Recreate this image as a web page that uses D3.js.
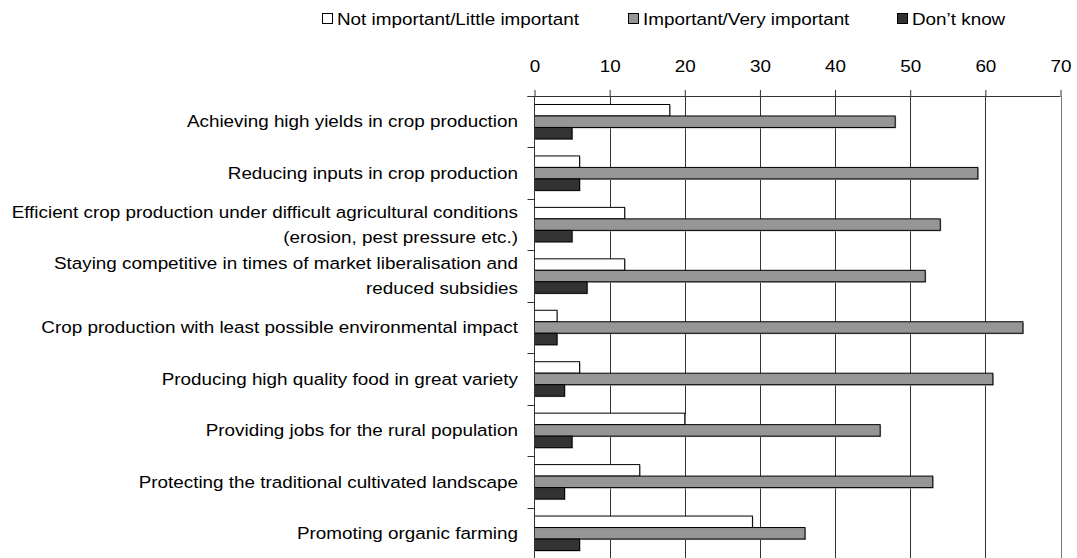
<!DOCTYPE html>
<html>
<head>
<meta charset="utf-8">
<script src="https://cdn.jsdelivr.net/npm/d3@7"></script>
<style>
  html, body { margin: 0; padding: 0; background: #fff; }
  svg { display: block; }
  text { font-family: "Liberation Sans", Arial, sans-serif; fill: #000; }
</style>
</head>
<body>
<svg id="chart" width="1077" height="558"></svg>
<script>
const categories = [
  "Achieving high yields in crop production",
  "Reducing inputs in crop production",
  "Efficient crop production under difficult agricultural conditions\n(erosion, pest pressure etc.)",
  "Staying competitive in times of market liberalisation and\nreduced subsidies",
  "Crop production with least possible environmental impact",
  "Producing high quality food in great variety",
  "Providing jobs for the rural population",
  "Protecting the traditional cultivated landscape",
  "Promoting organic farming"
];
const seriesNames = ["Not important/Little important", "Important/Very important", "Don\u2019t know"];
const notImportant = [18, 6, 12, 12, 3, 6, 20, 14, 29];
const important    = [48, 59, 54, 52, 65, 61, 46, 53, 36];
const dontKnow     = [5, 6, 5, 7, 3, 4, 5, 4, 6];
const xTicks = [0, 10, 20, 30, 40, 50, 60, 70];

const seriesValues = [notImportant, important, dontKnow];
const seriesFill = ["#ffffff", "#969696", "#333333"];

const FS = 17, SX = 1.11;
const svg = d3.select("#chart");

const x = d3.scaleLinear().domain([0, 70]).range([534.5, 1060.5]);
const y = d3.scaleBand().domain(d3.range(categories.length)).range([96, 559]).padding(0);
const ySub = d3.scaleBand().domain(d3.range(seriesNames.length))
  .range([y.bandwidth() * 0.165, y.bandwidth() * 0.835]).padding(0);

function stretchText(sel, tx, ty) {
  sel.attr("transform", (d, i) => `translate(${tx(d, i)},${ty(d, i)}) scale(${SX},1)`);
}

// gridlines
svg.append("g").selectAll("line").data(xTicks.filter(t => t > 0)).join("line")
  .attr("x1", d => Math.round(x(d)) + 0.5).attr("x2", d => Math.round(x(d)) + 0.5)
  .attr("y1", 96).attr("y2", 559)
  .attr("stroke", d => d === 70 ? "#777" : "#333").attr("stroke-width", 1);

// top axis
const gx = svg.append("g").attr("transform", "translate(0,96)")
  .call(d3.axisTop(x).tickValues(xTicks).tickSize(6).tickPadding(18).tickFormat(d3.format("d")));
gx.select(".domain").attr("stroke", "#333").attr("d", `M${x(0) - 7},0.5H${x(70)}`);
gx.selectAll(".tick line").attr("stroke", "#333");
gx.selectAll(".tick text").attr("font-size", FS).attr("font-family", "Liberation Sans, Arial, sans-serif")
  .attr("fill", "#000").attr("transform", `scale(${SX},1)`).attr("x", 0);

// bars
const rows = svg.append("g").selectAll("g").data(categories).join("g")
  .attr("transform", (d, i) => `translate(0,${y(i)})`);

seriesValues.forEach((vals, s) => {
  rows.append("rect")
    .attr("x", x(0) + 1)
    .attr("y", (d, i) => ySub(s) + 1)
    .attr("width", (d, i) => x(vals[i]) - x(0))
    .attr("height", ySub.bandwidth())
    .attr("fill", "#b0b0b0");
});
seriesValues.forEach((vals, s) => {
  rows.append("rect")
    .attr("x", x(0))
    .attr("y", (d, i) => ySub(s))
    .attr("width", (d, i) => x(vals[i]) - x(0))
    .attr("height", ySub.bandwidth())
    .attr("fill", seriesFill[s])
    .attr("stroke", "#000").attr("stroke-width", 1);
});

// left axis
svg.append("line").attr("x1", x(0)).attr("x2", x(0)).attr("y1", 96).attr("y2", 559)
  .attr("stroke", "#333");
svg.append("g").selectAll("line").data(d3.range(categories.length)).join("line")
  .attr("x1", x(0) - 7).attr("x2", x(0))
  .attr("y1", d => Math.round(y(d)) + 0.5).attr("y2", d => Math.round(y(d)) + 0.5)
  .attr("stroke", "#333");

// category labels
const LH = 24.5;
const lab = svg.append("g").selectAll("text").data(categories).join("text")
  .attr("font-size", FS).attr("text-anchor", "end").attr("dominant-baseline", "central");
stretchText(lab, () => 518, (d, i) => y(i) + y.bandwidth() / 2);
lab.each(function(d) {
  const lines = d.split("\n");
  const t = d3.select(this);
  lines.forEach((ln, k) => {
    t.append("tspan").attr("x", 0)
      .attr("y", (k - (lines.length - 1) / 2) * LH)
      .text(ln);
  });
});

// legend
const legX = [322, 628, 897];
const leg = svg.append("g").selectAll("g").data(seriesNames).join("g");
leg.append("rect")
  .attr("x", (d, i) => legX[i] + 0.5).attr("y", 13.5)
  .attr("width", 10).attr("height", 10)
  .attr("fill", (d, i) => seriesFill[i]).attr("stroke", "#000");
const lt = leg.append("text").attr("font-size", FS).attr("dominant-baseline", "central").text(d => d);
stretchText(lt, (d, i) => legX[i] + 15, () => 19);
</script>
</body>
</html>
